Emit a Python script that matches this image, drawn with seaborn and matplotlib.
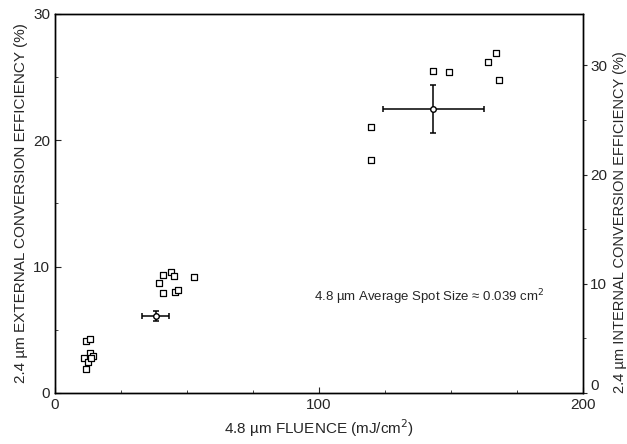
import matplotlib
matplotlib.use("Agg")
import matplotlib.pyplot as plt
import seaborn as sns
import pandas as pd
import numpy as np

# Data
fluence = [11.6, 13.3, 11.0, 13.3, 12.6, 14.3, 13.5, 11.6,
           41.0, 43.9, 45.2, 39.4, 52.7, 41.0, 45.5, 46.7,
           143.3, 149.4, 166.9, 164.0, 168.3, 119.7, 119.7]
efficiency = [4.12, 4.28, 2.79, 3.17, 2.48, 2.93, 2.75, 1.88,
              9.34, 9.56, 9.26, 8.69, 9.21, 7.89, 8.02, 8.16,
              25.52, 25.42, 26.90, 26.18, 24.81, 21.08, 18.45]

mean_fluence = [38.1, 143.3]
mean_eff = [6.08, 22.49]
fluence_err = [5.0, 19.0]
eff_err = [0.4, 1.9]

x_ticks = [0, 100, 200]
y_ticks = [0, 10, 20, 30]
right_ticks = [0, 10, 20, 30]
internal_ratio = 34.7 / 30.0

sns.set_style("ticks")
plt.rcParams['font.family'] = ['Liberation Sans', 'DejaVu Sans']

fig = plt.figure(figsize=(6.27, 4.44), dpi=100)
ax = fig.add_axes([0.0877, 0.1149, 0.8423, 0.8536])

df = pd.DataFrame({"fluence": fluence, "eff": efficiency})
sns.scatterplot(data=df, x="fluence", y="eff", marker="s", s=14,
                facecolor="white", edgecolor="black", linewidth=0.9, ax=ax, zorder=3)

ax.errorbar(mean_fluence, mean_eff, xerr=fluence_err, yerr=eff_err, fmt="o",
            mfc="white", mec="black", ms=4, ecolor="black", elinewidth=1.1,
            capsize=2.5, capthick=1.1, zorder=4)

ax.set_xlim(0, 200)
ax.set_ylim(0, 30)
ax.set_xticks(x_ticks)
ax.set_yticks(y_ticks)
ax.set_xticks([25, 50, 75, 125, 150, 175], minor=True)
ax.set_yticks([5, 15, 25], minor=True)
ax.tick_params(direction="in", length=4, labelsize=11, width=0.8)
ax.tick_params(which="minor", direction="in", length=2, width=0.6)
ax.set_xlabel("4.8 \u00b5m FLUENCE (mJ/cm$^2$)", fontsize=11)
ax.set_ylabel("2.4 \u00b5m EXTERNAL CONVERSION EFFICIENCY (%)", fontsize=11)

ax2 = ax.twinx()
ax2.set_ylim(0, 30 * internal_ratio)
ax2.set_yticks(right_ticks)
ax2.set_yticks([5, 15, 25], minor=True)
ax2.tick_params(direction="out", length=3, labelsize=11, width=0.8, pad=2)
ax2.tick_params(which="minor", direction="out", length=2, width=0.6)
ax2.set_ylabel("2.4 \u00b5m INTERNAL CONVERSION EFFICIENCY (%)", fontsize=10.5,
               labelpad=4)
ax2.yaxis.label.set_position((1, 0.45))
# raise the right-hand "0" slightly so it clears the "200" below it
fig.canvas.draw()
ax2.get_yticklabels()[0].set_verticalalignment("bottom")

for a in (ax, ax2):
    for sp in a.spines.values():
        sp.set_linewidth(1.0)
        sp.set_color("black")

ax.text(98, 7.6, "4.8 \u00b5m Average Spot Size \u2248 0.039 cm$^2$", fontsize=9.5,
        ha="left", va="center")

fig.savefig("out.png", dpi=100)
